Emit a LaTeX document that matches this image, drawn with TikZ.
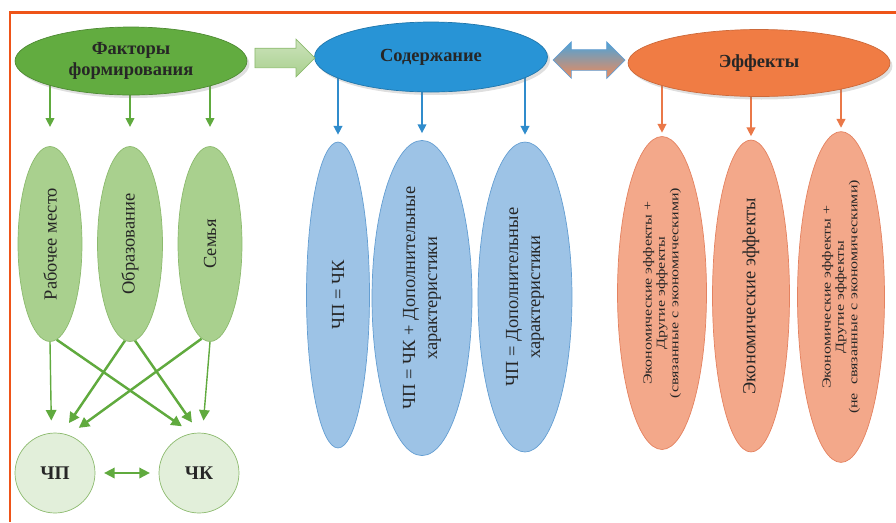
\documentclass[tikz,border=0pt]{standalone}
\usepackage{fontspec}
\setmainfont{Liberation Serif}
\newfontfamily\widefont[FakeStretch=1.3]{Liberation Serif}
\usetikzlibrary{shapes.geometric,shapes.arrows,arrows.meta,shadows,backgrounds}
\definecolor{framec}{RGB}{238,84,24}
\definecolor{gdark}{RGB}{98,172,64}
\definecolor{gline}{RGB}{96,170,62}
\definecolor{gleaf}{RGB}{169,208,142}
\definecolor{gleafb}{RGB}{140,186,110}
\definecolor{gpale}{RGB}{226,239,218}
\definecolor{bdark}{RGB}{40,148,214}
\definecolor{bline}{RGB}{48,140,204}
\definecolor{bleaf}{RGB}{157,195,230}
\definecolor{bleafb}{RGB}{100,158,210}
\definecolor{odark}{RGB}{240,124,68}
\definecolor{oline}{RGB}{234,120,72}
\definecolor{oleaf}{RGB}{243,168,138}
\definecolor{oleafb}{RGB}{228,130,96}

\begin{document}
\begin{tikzpicture}[x=0.02cm,y=-0.02cm,
    head/.style={ellipse,inner sep=0pt,align=center,text=black!85,
        font=\fontsize{10.5}{12}\selectfont\bfseries,
        drop shadow={opacity=0.25,shadow xshift=0.5mm,shadow yshift=-0.6mm}},
    leaf/.style={ellipse,rotate=90,inner sep=0pt,align=center,text=black!85,
        font=\fontsize{10.5}{12.5}\selectfont},
    small/.style={font=\widefont\fontsize{7}{7.6}\selectfont},
    circ/.style={circle,minimum size=1.6cm,inner sep=0pt,draw=gleafb,fill=gpale,
        text=black!85,font=\fontsize{11}{12}\selectfont\bfseries},
    thin/.style={line width=0.8pt,-{Triangle[length=5pt,width=5pt]}},
    thick/.style={gline,line width=1.4pt,-{Triangle[length=6pt,width=6pt]}}]
\useasboundingbox (0,0) rectangle (896,522);

\node[head,fill=gdark,draw=gdark!80!black,minimum width=4.64cm,minimum height=1.36cm] (fact) at (131,61) {Факторы\\формирования};
\node[head,fill=bdark,draw=bdark!80!black,minimum width=4.66cm,minimum height=1.4cm] (sod) at (431,57) {Содержание};
\node[head,fill=odark,draw=odark!85!black,minimum width=5.24cm,minimum height=1.34cm] (eff) at (759,63) {Эффекты};

\node[single arrow,single arrow head extend=0.18cm,minimum height=1.2cm,inner xsep=0pt,inner ysep=0.19cm,
    draw=gleafb,top color=gleaf!60!white,bottom color=gleaf] (ga) at (280,58) {};
\node[double arrow,double arrow head extend=0.16cm,minimum height=1.44cm,inner xsep=0pt,inner ysep=0.2cm,
    draw=bleafb,top color=bdark!85,middle color=oleaf!55!white,bottom color=odark!90] (da) at (589,60) {};

\node[leaf,fill=gleaf,draw=gleafb,minimum width=3.9cm,minimum height=1.28cm] (rab) at (50,244) {Рабочее место};
\node[leaf,fill=gleaf,draw=gleafb,minimum width=3.9cm,minimum height=1.3cm] (obr) at (130,244) {Образование};
\node[leaf,fill=gleaf,draw=gleafb,minimum width=3.9cm,minimum height=1.28cm] (sem) at (210,244) {Семья};

\node[leaf,fill=bleaf,draw=bleafb,minimum width=6.12cm,minimum height=1.26cm] (bl1) at (338,295) {ЧП = ЧК};
\node[leaf,fill=bleaf,draw=bleafb,minimum width=6.26cm,minimum height=2cm] (bl2) at (422,298) {ЧП = ЧК + Дополнительные\\характеристики};
\node[leaf,fill=bleaf,draw=bleafb,minimum width=6.2cm,minimum height=1.88cm] (bl3) at (525,297) {ЧП = Дополнительные\\характеристики};

\node[leaf,small,fill=oleaf,draw=oleafb,minimum width=6.26cm,minimum height=1.78cm] (or1) at (662,293) {Экономические эффекты +\\Другие эффекты\\(связанные с экономическими)};
\node[leaf,fill=oleaf,draw=oleafb,minimum width=6.24cm,minimum height=1.54cm] (or2) at (751,296) {Экономические эффекты};
\node[leaf,small,fill=oleaf,draw=oleafb,minimum width=6.26cm,minimum height=1.74cm] (or3) at (841,297) {Экономические эффекты +\\Другие эффекты\\(не\ \ связанные с экономическими)};

\node[circ] (cp) at (55,473) {ЧП};
\node[circ] (ck) at (199,473) {ЧК};

\begin{scope}[on background layer]
\draw[framec,line width=1.7pt] (896,12) -- (10,12) -- (10,522);
\draw[thin,gline,shorten >=11pt] (fact -| rab.east) -- (rab.east);
\draw[thin,gline,shorten >=11pt] (fact -| obr.east) -- (obr.east);
\draw[thin,gline,shorten >=11pt] (fact -| sem.east) -- (sem.east);
\draw[thin,bline,shorten >=4pt] (sod -| bl1.east) -- (bl1.east);
\draw[thin,bline,shorten >=4pt] (sod -| bl2.east) -- (bl2.east);
\draw[thin,bline,shorten >=4pt] (sod -| bl3.east) -- (bl3.east);
\draw[thin,oline,shorten >=2pt] (eff -| or1.east) -- (or1.east);
\draw[thin,oline,shorten >=2pt] (eff -| or2.east) -- (or2.east);
\draw[thin,oline,shorten >=2pt] (eff -| or3.east) -- (or3.east);
\draw[thick,line width=0.8pt,shorten >=7pt] (rab.west) -- (cp.95);
\draw[thick,shorten >=7pt] (rab.184) -- (ck.100);
\draw[thick,shorten >=7pt] (obr.177) -- (cp.80);
\draw[thick,shorten >=7pt] (obr.183) -- (ck.90);
\draw[thick,shorten >=7pt] (sem.175) -- (cp.70);
\draw[thick,line width=0.8pt,shorten >=7pt] (sem.west) -- (ck.85);
\draw[gline,line width=1pt,{Triangle[length=6pt,width=6pt]}-{Triangle[length=6pt,width=6pt]},shorten <=5pt,shorten >=5pt] (cp) -- (ck);
\end{scope}
\end{tikzpicture}
\end{document}
